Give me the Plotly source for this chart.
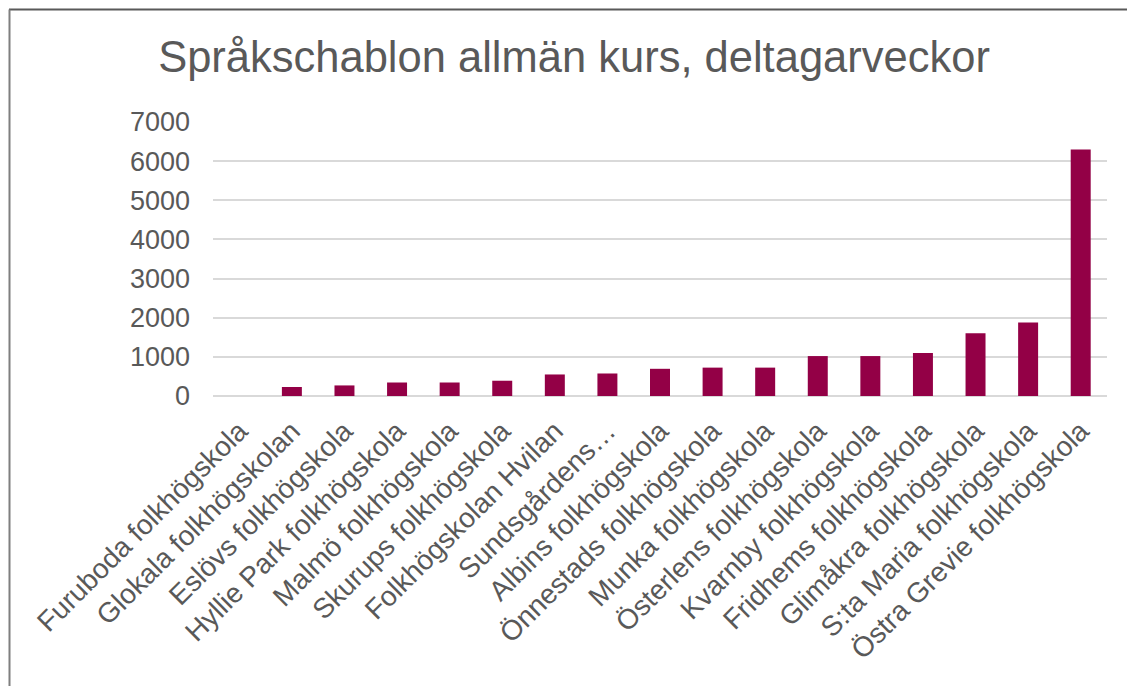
import plotly.graph_objects as go

categories = [
    "Furuboda folkhögskola",
    "Glokala folkhögskolan",
    "Eslövs folkhögskola",
    "Hyllie Park folkhögskola",
    "Malmö folkhögskola",
    "Skurups folkhögskola",
    "Folkhögskolan Hvilan",
    "Sundsgårdens…",
    "Albins folkhögskola",
    "Önnestads folkhögskola",
    "Munka folkhögskola",
    "Österlens folkhögskola",
    "Kvarnby folkhögskola",
    "Fridhems folkhögskola",
    "Glimåkra folkhögskola",
    "S:ta Maria folkhögskola",
    "Östra Grevie folkhögskola",
]
values = [0, 230, 270, 345, 345, 390, 550, 575, 695, 725, 725, 1020, 1020, 1100, 1600, 1875, 6300]
y_ticks = [0, 1000, 2000, 3000, 4000, 5000, 6000, 7000]
title_text = "Språkschablon allmän kurs, deltagarveckor"

font_family = "Liberation Sans, Arial, sans-serif"
text_color = "#595959"

# page offset (body margin) of 8px is compensated in the margins
OFF = 8
PL, PR, PT, PB = 213, 1107, 122, 396  # desired plot area in page pixels
W, H = 1135 - OFF, 686 - OFF

fig = go.Figure(
    go.Bar(
        x=categories,
        y=values,
        marker=dict(color="#930046", line=dict(width=0)),
    )
)

fig.update_layout(
    width=W,
    height=H,
    margin=dict(l=PL - OFF, r=W - (PR - OFF), t=PT - OFF, b=H - (PB - OFF)),
    paper_bgcolor="white",
    plot_bgcolor="white",
    bargap=0.62,
    showlegend=False,
    font=dict(family=font_family, color=text_color, size=27),
    title=dict(
        text=title_text,
        x=(574 - OFF) / W,
        xref="container",
        xanchor="center",
        y=1 - (57 - OFF) / H,
        yref="container",
        yanchor="middle",
        font=dict(family=font_family, size=43.5, color=text_color),
    ),
    xaxis=dict(
        tickangle=-45,
        showgrid=False,
        showline=False,
        zeroline=False,
        ticks="",
        ticklabelstandoff=12,
        tickfont=dict(size=28, color=text_color),
        automargin=False,
    ),
    yaxis=dict(
        range=[0, 7000],
        tickvals=y_ticks,
        showgrid=True,
        gridcolor="#d9d9d9",
        gridwidth=2,
        zeroline=True,
        zerolinecolor="#d9d9d9",
        zerolinewidth=2,
        showline=False,
        ticks="",
        ticklabelstandoff=22,
        tickfont=dict(size=27, color=text_color),
        automargin=False,
    ),
    shapes=[
        dict(type="line", xref="paper", yref="paper",
             x0=(9 - PL) / (PR - PL), x1=(1145 - PL) / (PR - PL),
             y0=(PB - 9.5) / (PB - PT), y1=(PB - 9.5) / (PB - PT),
             line=dict(color="#595959", width=2)),
        dict(type="line", xref="paper", yref="paper",
             x0=(9.5 - PL) / (PR - PL), x1=(9.5 - PL) / (PR - PL),
             y0=(PB - 9.5) / (PB - PT), y1=(PB - 700) / (PB - PT),
             line=dict(color="#7f7f7f", width=2)),
    ],
)

fig.write_html("out.html")
